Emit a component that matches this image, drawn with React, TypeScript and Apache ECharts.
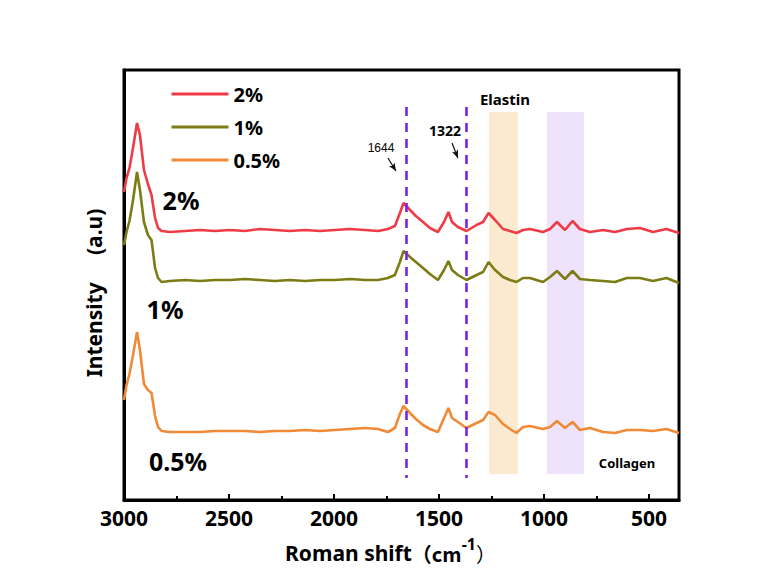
import React, { useEffect, useRef } from 'react';
import * as echarts from 'echarts';

// Raman shift (cm-1), shared by the three spectra
const shift = [3000, 2988, 2974, 2957, 2938, 2924, 2905, 2886, 2869, 2852, 2838, 2821,
  2781, 2710, 2638, 2567, 2495, 2424, 2352, 2281, 2210, 2138, 2067, 1995, 1924, 1852,
  1790, 1743, 1710, 1686, 1669, 1638, 1610, 1576, 1543, 1505,
  1476, 1455, 1438, 1410, 1369, 1321, 1290, 1264, 1233, 1195,
  1162, 1131, 1100, 1067, 1005, 971, 938, 900, 864, 829,
  781, 719, 662, 605, 543, 481, 417, 357];

const red2 = [308, 322, 332, 352, 377, 365, 330, 316, 305, 282, 272, 269,
  268, 269, 270, 269, 270, 269, 271, 270, 269, 270, 269, 270, 271, 270,
  269, 271, 274, 287, 297, 290, 284, 278, 272, 268,
  278, 288, 278, 273, 269, 275, 278, 287, 280, 271,
  269, 267, 270, 271, 268, 271, 278, 270, 279, 271,
  268, 270, 268, 271, 272, 268, 271, 267];

const green1 = [255, 268, 279, 300, 328, 310, 278, 265, 260, 232, 222, 218,
  219, 220, 219, 220, 220, 221, 220, 219, 220, 219, 220, 220, 221, 220,
  220, 222, 225, 238, 249, 243, 238, 232, 226, 220,
  230, 239, 230, 225, 220, 225, 228, 238, 230, 223,
  220, 218, 222, 222, 218, 223, 229, 221, 229, 221,
  220, 219, 218, 222, 222, 219, 222, 217];

const orange05 = [100, 115, 126, 145, 168, 150, 116, 110, 107, 84, 73, 69,
  68, 68, 68, 69, 69, 69, 68, 69, 69, 70, 69, 70, 71, 72,
  71, 68, 72, 86, 94, 87, 81, 75, 71, 68,
  82, 92, 82, 78, 72, 77, 80, 88, 85, 76,
  71, 67, 73, 74, 71, 73, 79, 72, 78, 70,
  72, 68, 67, 70, 70, 69, 71, 67];

const seriesNames = ['2%', '1%', '0.5%'];
const seriesColors = ['#EE3B46', '#7C7C14', '#F08A36'];
const majorTicks = [500, 1000, 1500, 2000, 2500, 3000];
const minorTicks = [750, 1250, 1750, 2250, 2750];
const peakLines = [1654, 1371];
const elastinBand = [1262, 1124];
const collagenBand = [986, 810];
const bandIntensity = [26, 388];
const lineIntensity = [22, 393];

const FONT = 'Noto Sans';

export default function App() {
  const ref = useRef<HTMLDivElement>(null);
  useEffect(() => {
    if (!ref.current) return;
    const chart = echarts.init(ref.current, undefined, { renderer: 'svg' });
    const pair = (ys: number[]) => shift.map((x, i) => [x, ys[i]]);
    const lineSeries = [red2, green1, orange05].map((ys, i) => ({
      name: seriesNames[i],
      type: 'line',
      data: pair(ys),
      symbol: 'none',
      smooth: false,
      z: 3,
      lineStyle: { color: seriesColors[i], width: 2.6 },
      itemStyle: { color: seriesColors[i] },
    }));
    const option: any = {
      animation: false,
      backgroundColor: '#ffffff',
      grid: { left: 124, right: 102, top: 70, bottom: 83, show: true, borderColor: '#000', borderWidth: 3 },
      legend: {
        data: seriesNames,
        orient: 'vertical',
        left: 165,
        top: 79,
        itemWidth: 57,
        itemHeight: 20,
        itemGap: 13,
        itemStyle: { opacity: 0 },
        lineStyle: { width: 3 },
        textStyle: { color: '#000', fontSize: 20, fontWeight: 'bold', fontFamily: FONT },
      },
      xAxis: [
        {
          type: 'value', min: 357, max: 3000, inverse: true, position: 'bottom',
          name: '{a|Roman shift}{b|（cm}{c|-1}{d|）}',
          nameLocation: 'middle', nameGap: 36,
          nameTextStyle: {
            padding: [0, 22, 0, 0],
            rich: {
              a: { fontSize: 21, fontWeight: 'bold', color: '#000', fontFamily: FONT },
              b: { fontSize: 20, fontWeight: 'bold', color: '#000', fontFamily: 'Noto Sans CJK SC' },
              c: { fontSize: 16, fontWeight: 'bold', color: '#000', fontFamily: FONT, padding: [0, 0, 18, 0] },
              d: { fontSize: 20, color: '#000', fontFamily: 'Noto Sans CJK SC' },
            },
          },
          axisLine: { show: true, lineStyle: { color: '#000', width: 3 } },
          axisTick: { show: true, inside: true, length: 6, lineStyle: { color: '#000', width: 2 }, customValues: majorTicks },
          axisLabel: {
            customValues: majorTicks, color: '#000', fontSize: 21, fontWeight: 'bold', fontFamily: FONT, margin: 7,
            formatter: (v: number) => String(v),
          },
          splitLine: { show: false },
        },
        {
          type: 'value', min: 357, max: 3000, inverse: true, position: 'bottom',
          axisLine: { show: false },
          axisTick: { show: true, inside: true, length: 4, lineStyle: { color: '#000', width: 2 }, customValues: minorTicks },
          axisLabel: { show: false },
          splitLine: { show: false },
        },
      ],
      yAxis: {
        type: 'value', min: 0, max: 430,
        name: 'Intensity     (a.u)', nameLocation: 'middle', nameGap: 20,
        nameTextStyle: { color: '#000', fontSize: 21, fontWeight: 'bold', fontFamily: FONT, padding: [0, 16, 0, 0] },
        axisLine: { show: true, lineStyle: { color: '#000', width: 3 } },
        axisTick: { show: false },
        axisLabel: { show: false },
        splitLine: { show: false },
      },
      series: [
        {
          name: 'collagen-band', type: 'line', data: [], z: 1, silent: true,
          markArea: {
            silent: true,
            itemStyle: { color: '#EFE2FB', opacity: 1 },
            data: [[{ coord: [collagenBand[0], bandIntensity[1]] }, { coord: [collagenBand[1], bandIntensity[0]] }]],
          },
        },
        ...lineSeries,
        {
          name: 'elastin-band', type: 'line', data: [], z: 5, silent: true,
          markArea: {
            silent: true,
            itemStyle: { color: 'rgb(249,223,183)', opacity: 0.65 },
            data: [[{ coord: [elastinBand[0], bandIntensity[1]] }, { coord: [elastinBand[1], bandIntensity[0]] }]],
          },
        },
        {
          name: 'marks', type: 'line', data: [], z: 6, silent: true,
          markLine: {
            silent: true,
            symbol: ['none', 'none'],
            label: { show: false },
            lineStyle: { color: '#7A22E6', width: 2.6, type: [9, 7] },
            data: peakLines.map((v) => [{ coord: [v, lineIntensity[1]] }, { coord: [v, lineIntensity[0]] }]),
          },
        },
        {
          name: 'arrows', type: 'line', data: [], z: 6, silent: true,
          markLine: {
            silent: true,
            symbol: ['none', 'arrow'],
            symbolSize: [5, 8],
            label: { show: false },
            lineStyle: { color: '#111', width: 1.2, type: 'solid' },
            data: [
              [{ coord: [1743, 342] }, { coord: [1705, 329] }],
              [{ coord: [1438, 357] }, { coord: [1410, 342] }],
            ],
          },
        },
      ],
      graphic: [
        { type: 'text', x: 181, y: 200, style: { text: '2%', fill: '#000', font: `bold 25px "${FONT}"`, textAlign: 'center', textVerticalAlign: 'middle' } },
        { type: 'text', x: 165, y: 309, style: { text: '1%', fill: '#000', font: `bold 25px "${FONT}"`, textAlign: 'center', textVerticalAlign: 'middle' } },
        { type: 'text', x: 178, y: 461, style: { text: '0.5%', fill: '#000', font: `bold 25px "${FONT}"`, textAlign: 'center', textVerticalAlign: 'middle' } },
        { type: 'text', x: 381, y: 148, style: { text: '1644', fill: '#000', font: '12px "Liberation Sans"', textAlign: 'center', textVerticalAlign: 'middle' } },
        { type: 'text', x: 445, y: 130, style: { text: '1322', fill: '#000', font: `bold 14px "${FONT}"`, textAlign: 'center', textVerticalAlign: 'middle' } },
        { type: 'text', x: 505, y: 99, style: { text: 'Elastin', fill: '#000', font: `bold 15px "${FONT}"`, textAlign: 'center', textVerticalAlign: 'middle' } },
        { type: 'text', x: 627, y: 463, style: { text: 'Collagen', fill: '#000', font: `bold 13px "${FONT}"`, textAlign: 'center', textVerticalAlign: 'middle' } },
      ],
    };
    chart.setOption(option);
    return () => chart.dispose();
  }, []);
  return <div ref={ref} style={{ width: 781, height: 583, position: 'absolute', left: 0, top: 0 }} />;
}
